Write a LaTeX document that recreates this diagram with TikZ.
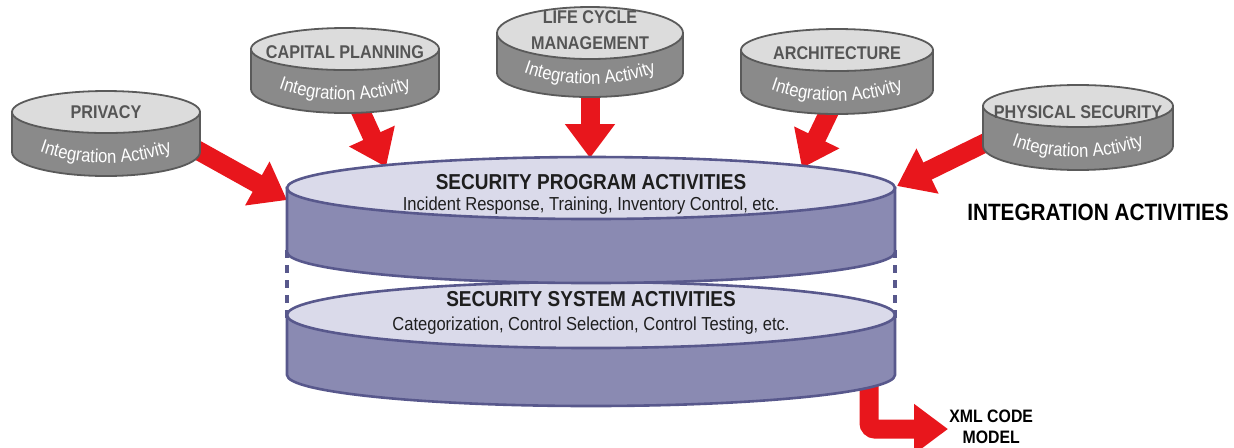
\documentclass[tikz,border=0pt]{standalone}
\usepackage{fontspec}
\setmainfont{Liberation Sans}
\newfontfamily\nf[FakeStretch=0.88]{Liberation Sans}
\usetikzlibrary{arrows.meta,decorations.text}
\definecolor{gtop}{HTML}{DCDCDC}
\definecolor{gside}{HTML}{8A8A8A}
\definecolor{gborder}{HTML}{5A5A5A}
\definecolor{gtext}{HTML}{555555}
\definecolor{ltop}{HTML}{DADAEA}
\definecolor{lside}{HTML}{8A8AB2}
\definecolor{lborder}{HTML}{58588C}
\definecolor{bigred}{HTML}{E8161C}
\definecolor{dtext}{HTML}{1E1E1E}
\tikzset{
  redarrow/.style={draw=bigred, line width=9.5pt, -{Triangle[length=17pt,width=24pt]}},
  smalllabel/.style={font=\nf\bfseries\fontsize{9.2}{13}\selectfont, text=gtext, align=center, inner sep=0pt},
  bighead/.style={font=\nf\bfseries\fontsize{10.8}{12}\selectfont, text=dtext, inner sep=0pt},
  bigsub/.style={font=\nf\fontsize{9.4}{11}\selectfont, text=dtext, inner sep=0pt},
  sidelabel/.style={font=\nf\bfseries\fontsize{9}{10.5}\selectfont, text=black, align=center, inner sep=0pt},
  dashside/.style={draw=lborder, line width=1.7pt, dash pattern=on 4pt off 3.5pt},
}
\newcommand\iafont{\nf\fontsize{9.4}{10}\selectfont}
% #1 name, #2 cx, #3 cy, #4 rx, #5 label, #6 label y shift, #7 top ry
\newcommand\smallcyl[7]{%
  \path[fill=gside, draw=gborder, line width=0.9pt] (#2-#4,#3) -- (#2-#4,#3+40)
     arc[start angle=180, end angle=0, x radius=#4, y radius=24] -- (#2+#4,#3) -- cycle;
  \path[fill=gtop, draw=gborder, line width=0.9pt] (#2,#3) ellipse[x radius=#4, y radius=#7];
  \node[smalllabel] (#1) at (#2,#3+#6) {#5};
  \path[decorate, decoration={text along path, text={|\iafont|Integration Activity}, text align=center, text color=white}]
     (#2-76,#3+36) .. controls (#2-28,#3+56) and (#2+28,#3+56) .. (#2+76,#3+36);
}
% #1 cy, #2 h, #3 ry
\newcommand\bigcyl[3]{%
  \path[fill=lside, draw=lborder, line width=1.3pt] (287,#1) -- (287,#1+#2)
     arc[start angle=180, end angle=0, x radius=304, y radius=31] -- (895,#1) -- cycle;
  \path[fill=ltop, draw=lborder, line width=1.3pt] (591,#1) ellipse[x radius=304, y radius=#3];
}
\begin{document}
\begin{tikzpicture}[x=0.5pt, y=-0.5pt]
\useasboundingbox (0,0) rectangle (1234,447);
% arrow end points
\coordinate (pvS) at (190,146);  \coordinate (pvE) at (287,200);
\coordinate (cpS) at (360,110);  \coordinate (cpE) at (386,167);
\coordinate (lcS) at (590,80);   \coordinate (lcE) at (590,158);
\coordinate (arS) at (830,110);  \coordinate (arE) at (802,168);
\coordinate (psS) at (995,138);  \coordinate (psE) at (897,186);
\coordinate (xmS) at (869,365);  \coordinate (xmE) at (948,429);
\draw[redarrow] (pvS) -- (pvE);
\draw[redarrow] (cpS) -- (cpE);
\draw[redarrow] (lcS) -- (lcE);
\draw[redarrow] (arS) -- (arE);
\draw[redarrow] (psS) -- (psE);
\draw[redarrow, rounded corners=3pt] (xmS) |- (xmE);
% small cylinders
\smallcyl{privacy}{106}{112}{94}{PRIVACY}{0}{21}
\smallcyl{capital}{345}{49}{94}{CAPITAL PLANNING}{3}{21}
\smallcyl{lifecycle}{590}{33}{93}{LIFE CYCLE\\MANAGEMENT}{-3}{26}
\smallcyl{architecture}{837}{50}{96}{ARCHITECTURE}{3}{21}
\smallcyl{physical}{1078}{106}{95}{PHYSICAL SECURITY}{6}{21}
% dashed connectors between the two layers
\draw[dashside] (287,250) -- (287,318);
\draw[dashside] (895,250) -- (895,318);
% main cylinders
\bigcyl{315}{60}{33}
\bigcyl{188}{64}{31}
\node[bighead] (program) at (591,182) {SECURITY PROGRAM ACTIVITIES};
\node[bigsub] (programsub) at (591,206) {Incident Response, Training, Inventory Control, etc.};
\node[bighead] (system) at (591,299) {SECURITY SYSTEM ACTIVITIES};
\node[bigsub] (systemsub) at (591,326) {Categorization, Control Selection, Control Testing, etc.};
\node[sidelabel, font=\nf\bfseries\fontsize{11.8}{13}\selectfont] (integration) at (1098,212) {INTEGRATION ACTIVITIES};
\node[sidelabel, anchor=west] (xml) at (949,427) {XML CODE\\MODEL};
\end{tikzpicture}
\end{document}
